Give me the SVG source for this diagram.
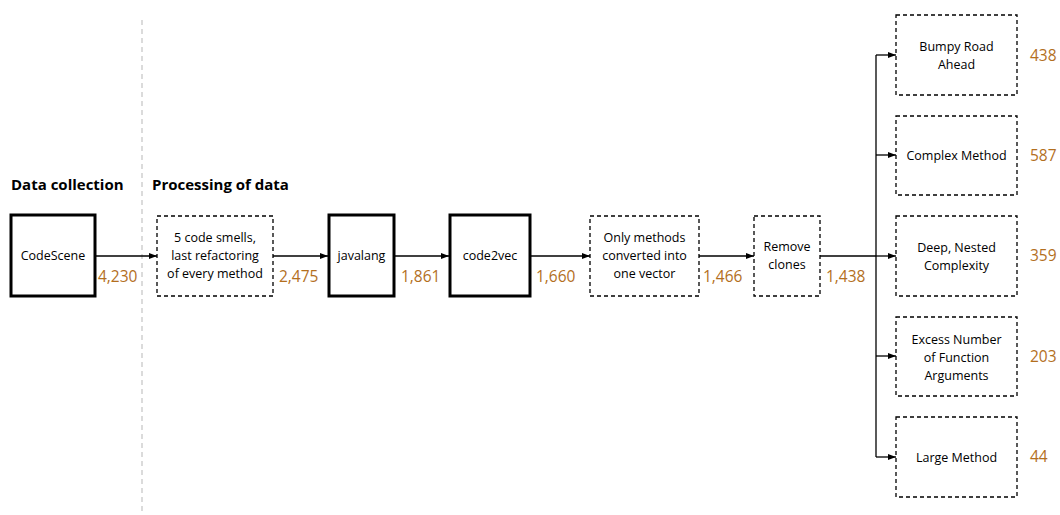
<svg xmlns="http://www.w3.org/2000/svg" width="1060" height="515" viewBox="0 0 1060 515">
<defs>
<marker id="ah" markerWidth="8" markerHeight="6" refX="8" refY="3" orient="auto" markerUnits="userSpaceOnUse">
<path d="M0,0 L8,3 L0,6 z" fill="#000"/>
</marker>
<style>
.solid{fill:#fff;stroke:#000;stroke-width:3}
.dash{fill:#fff;stroke:#000;stroke-width:1.3;stroke-dasharray:4,3}
.t{font-family:"Open Sans","Liberation Sans",sans-serif;font-size:12.5px;fill:#000;text-anchor:middle}
.n{font-family:"Open Sans","Liberation Sans",sans-serif;font-size:15.5px;fill:#b36f1e}
.h{font-family:"Open Sans","Liberation Sans",sans-serif;font-size:15px;font-weight:bold;fill:#000}
.c{fill:none;stroke:#000;stroke-width:1.3}
</style>
</defs>
<rect width="1060" height="515" fill="#fff"/>
<line x1="142" y1="20" x2="142" y2="512" stroke="#c8c8c8" stroke-width="1.3" stroke-dasharray="5,4"/>
<text class="h" x="11" y="190">Data collection</text>
<text class="h" x="152" y="190">Processing of data</text>

<g id="connectors">
<line class="c" x1="96" y1="256" x2="157" y2="256" marker-end="url(#ah)"/>
<line class="c" x1="273" y1="256" x2="328" y2="256" marker-end="url(#ah)"/>
<line class="c" x1="395" y1="256" x2="449" y2="256" marker-end="url(#ah)"/>
<line class="c" x1="531" y1="256" x2="590" y2="256" marker-end="url(#ah)"/>
<line class="c" x1="699" y1="256" x2="754" y2="256" marker-end="url(#ah)"/>
<line class="c" x1="820" y1="256" x2="876" y2="256"/>
<line class="c" x1="876" y1="55" x2="876" y2="457"/>
<line class="c" x1="876" y1="55" x2="896" y2="55" marker-end="url(#ah)"/>
<line class="c" x1="876" y1="155" x2="896" y2="155" marker-end="url(#ah)"/>
<line class="c" x1="876" y1="256" x2="896" y2="256" marker-end="url(#ah)"/>
<line class="c" x1="876" y1="356" x2="896" y2="356" marker-end="url(#ah)"/>
<line class="c" x1="876" y1="457" x2="896" y2="457" marker-end="url(#ah)"/>
</g>

<g id="codescene">
<rect class="solid" x="11" y="215" width="84" height="81"/>
<text class="t" x="53" y="260">CodeScene</text>
</g>
<text class="n" x="98" y="282">4,230</text>

<g id="smells">
<rect class="dash" x="157" y="216" width="116" height="80"/>
<text class="t" x="215" y="242">5 code smells,</text>
<text class="t" x="215" y="260">last refactoring</text>
<text class="t" x="215" y="278">of every method</text>
</g>
<text class="n" x="279" y="282">2,475</text>

<g id="javalang">
<rect class="solid" x="329" y="215" width="65" height="81"/>
<text class="t" x="361.5" y="260">javalang</text>
</g>
<text class="n" x="401" y="282">1,861</text>

<g id="code2vec">
<rect class="solid" x="450" y="215" width="80" height="81"/>
<text class="t" x="490" y="260">code2vec</text>
</g>
<text class="n" x="536" y="282">1,660</text>

<g id="vector">
<rect class="dash" x="590" y="216" width="109" height="80"/>
<text class="t" x="644.5" y="242">Only methods</text>
<text class="t" x="644.5" y="260">converted into</text>
<text class="t" x="644.5" y="278">one vector</text>
</g>
<text class="n" x="703" y="282">1,466</text>

<g id="clones">
<rect class="dash" x="754" y="216" width="66" height="80"/>
<text class="t" x="787" y="251">Remove</text>
<text class="t" x="787" y="269">clones</text>
</g>
<text class="n" x="826" y="282">1,438</text>

<g id="bumpy">
<rect class="dash" x="896" y="15" width="121" height="80"/>
<text class="t" x="956.5" y="51">Bumpy Road</text>
<text class="t" x="956.5" y="69">Ahead</text>
</g>
<text class="n" x="1030" y="61">438</text>

<g id="complex">
<rect class="dash" x="896" y="116" width="121" height="79"/>
<text class="t" x="956.5" y="160">Complex Method</text>
</g>
<text class="n" x="1030" y="161">587</text>

<g id="deep">
<rect class="dash" x="896" y="216" width="121" height="80"/>
<text class="t" x="956.5" y="252">Deep, Nested</text>
<text class="t" x="956.5" y="270">Complexity</text>
</g>
<text class="n" x="1030" y="261">359</text>

<g id="excess">
<rect class="dash" x="896" y="317" width="121" height="79"/>
<text class="t" x="956.5" y="344">Excess Number</text>
<text class="t" x="956.5" y="362">of Function</text>
<text class="t" x="956.5" y="380">Arguments</text>
</g>
<text class="n" x="1030" y="362">203</text>

<g id="large">
<rect class="dash" x="896" y="417" width="121" height="80"/>
<text class="t" x="956.5" y="462">Large Method</text>
</g>
<text class="n" x="1030" y="462">44</text>
</svg>
